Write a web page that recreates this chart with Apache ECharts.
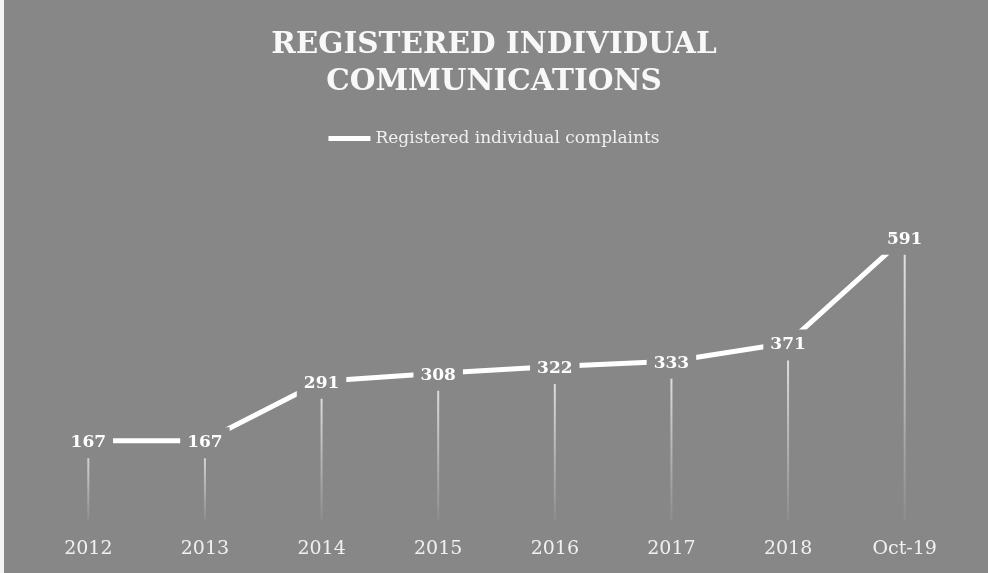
<!DOCTYPE html>
<html><head><meta charset="utf-8">
<script src="https://cdn.jsdelivr.net/npm/echarts@6/dist/echarts.min.js"></script>
<style>html,body{margin:0;padding:0;background:#878787}#c{width:988px;height:573px}</style>
</head><body><div id="c"></div>
<script>
var categories = ['2012','2013','2014','2015','2016','2017','2018','Oct-19'];
var complaints = [167,167,291,308,322,333,371,591];
var seriesName = 'Registered individual complaints';
var titleText = 'REGISTERED INDIVIDUAL\nCOMMUNICATIONS';

var chart = echarts.init(document.getElementById('c'));
var serif = '"DejaVu Serif", "Liberation Serif", serif';
chart.setOption({
  backgroundColor: '#878787',
  animation: false,
  title: {
    text: titleText, left: 'center', top: 22,
    textStyle: {color: '#f8f8f8', fontFamily: serif, fontWeight: 'bold', fontSize: 29.5, lineHeight: 37}
  },
  legend: {
    data: [{name: seriesName, icon: 'rect'}], top: 125, left: 'center',
    itemWidth: 42, itemHeight: 5, itemGap: 6,
    textStyle: {color: '#f0f0f0', fontFamily: serif, fontSize: 17}
  },
  graphic: [{type: 'rect', left: 0, top: 0, shape: {width: 4, height: 573}, style: {fill: '#f4f4f4'}, z: 100}],
  grid: {left: 30, right: 25, top: 185, bottom: 52},
  xAxis: {
    type: 'category', data: categories, boundaryGap: true,
    axisLine: {show: false}, axisTick: {show: false}, splitLine: {show: false},
    axisLabel: {color: '#f0f0f0', fontFamily: serif, fontSize: 19, margin: 19}
  },
  yAxis: {type: 'value', min: 0, max: 700, show: false, splitLine: {show: false}},
  series: [
    {
      type: 'bar', data: complaints, barWidth: 2, silent: true, z: 1,
      itemStyle: {color: new echarts.graphic.LinearGradient(0, 0, 0, 1, [
        {offset: 0, color: 'rgba(255,255,255,0.8)'},
        {offset: 1, color: 'rgba(255,255,255,0.05)'}
      ])}
    },
    {
      name: seriesName, type: 'line', data: complaints, z: 3,
      symbol: 'circle', symbolSize: 1, showSymbol: true,
      lineStyle: {color: '#ffffff', width: 5}, itemStyle: {color: '#ffffff'},
      label: {
        show: true, position: 'inside', offset: [0, 2], color: '#ffffff', fontFamily: serif,
        fontWeight: 'bold', fontSize: 17, backgroundColor: '#878787', padding: [7, 7]
      }
    }
  ]
});
</script></body></html>
